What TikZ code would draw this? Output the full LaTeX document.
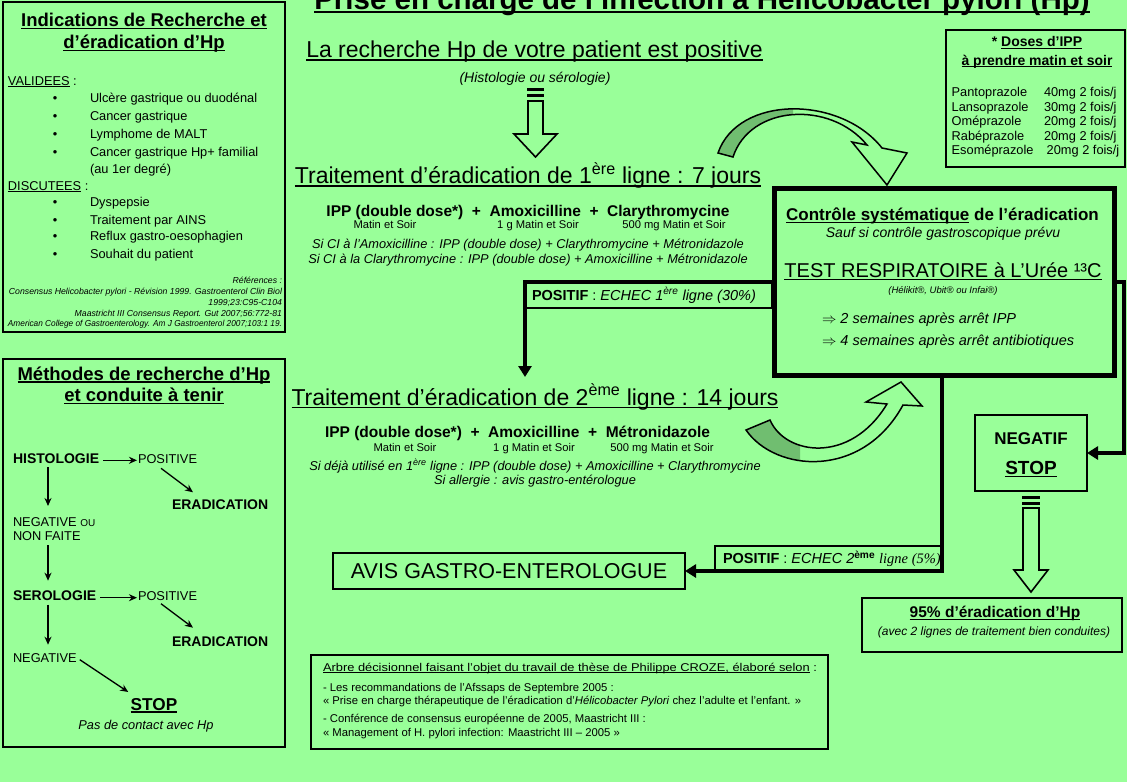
\documentclass[tikz,border=0pt]{standalone}
\usepackage{fontspec}
\setmainfont{Liberation Sans}
\newfontfamily\timesf{Liberation Serif}
\usetikzlibrary{arrows.meta,calc}
\definecolor{bg}{RGB}{153,255,153}
\definecolor{band}{RGB}{112,190,112}
\newcommand\fsz[1]{\fontsize{#1}{#1}\selectfont}
\newcommand\ulx[1]{\setbox0\hbox{#1}\rlap{\rule[-0.15em]{\wd0}{0.07em}}\box0\relax}
\newcommand\sups[1]{\textsuperscript{#1}}
\begin{document}
\begin{tikzpicture}[x=1pt,y=-1pt,
  t/.style={inner sep=0pt,outer sep=0pt,anchor=base},
  tl/.style={t,anchor=base west},
  tr/.style={t,anchor=base east},
  box/.style={draw=black,line width=#1,inner sep=0pt,outer sep=0pt,anchor=north west},
  box/.default=2pt,
  conn/.style={draw=black,line width=3.5pt,-{Triangle[length=11pt,width=13pt]}},
  marr/.style={draw=black,line width=1.3pt,-{Stealth[length=8pt,width=7pt]}},
  hollow/.style={draw=black,line width=1.6pt,fill=bg,line join=miter},
  curved/.style={draw=black,line width=1.5pt,line join=miter}]
\fill[bg] (0,0) rectangle (1127,782);
\useasboundingbox (0,0) rectangle (1127,782);

% ---------- title ----------
\node[t] (title) at (702,9) {\fsz{29.5}\bfseries\ulx{Prise en charge de l’infection à Helicobacter pylori (Hp)}};

% ---------- box 1 : indications ----------
\node[box,minimum width=282pt,minimum height=330pt] (ind) at (3,2) {};
\node[t] (ind1) at (144,26.7) {\fsz{18.5}\bfseries\ulx{Indications de Recherche et}};
\node[t] (ind2) at (144,48.3) {\fsz{18.5}\bfseries\ulx{d’éradication d’Hp}};
\node[tl] (val) at (8,85) {\fsz{12.8}\ulx{VALIDEES} :};
\foreach \y/\txt [count=\i] in {102.7/Ulcère gastrique ou duodénal,120.7/Cancer gastrique,138/Lymphome de MALT,156.7/Cancer gastrique Hp+ familial}{
  \node[t] (vb\i) at (55,\y) {\fsz{12.8}•};
  \node[tl] (vi\i) at (90,\y) {\fsz{12.8}\txt};
}
\node[tl] (vi5) at (90,173.3) {\fsz{12.8}(au 1er degré)};
\node[tl] (dis) at (8,190) {\fsz{12.8}\ulx{DISCUTEES} :};
\foreach \y/\txt [count=\i] in {206.7/Dyspepsie,224/Traitement par AINS,240.7/Reflux gastro-oesophagien,258.3/Souhait du patient}{
  \node[t] (db\i) at (55,\y) {\fsz{12.8}•};
  \node[tl] (di\i) at (90,\y) {\fsz{12.8}\txt};
}
\node[tr] (r1) at (282,283.5) {\fsz{8.7}\itshape Références :};
\node[tr] (r2) at (282,294.5) {\fsz{8.7}\itshape Consensus Helicobacter pylori - Révision 1999. Gastroenterol Clin Biol};
\node[tr] (r3) at (282,305) {\fsz{8.7}\itshape 1999;23:C95-C104};
\node[tr] (r4) at (282,316) {\fsz{8.7}\itshape Maastricht III Consensus Report. Gut 2007;56:772-81};
\node[tr] (r5) at (282,326.5) {\fsz{8.7}\resizebox{274pt}{\height}{\itshape American College of Gastroenterology. Am J Gastroenterol 2007;103:1 19.}};

% ---------- box 2 : methodes ----------
\node[box,minimum width=282pt,minimum height=388pt] (meth) at (3,359) {};
\node[t] (m1) at (144,380) {\fsz{18.5}\bfseries\ulx{Méthodes de recherche d’Hp}};
\node[t] (m2) at (144,401.7) {\fsz{18.5}\bfseries\ulx{et conduite à tenir}};
\node[tl] (histo) at (13,463.3) {\fsz{14}\bfseries HISTOLOGIE};
\node[tl] (posa) at (138,463.3) {\fsz{12.8}POSITIVE};
\node[tl] (eraa) at (172,509.3) {\fsz{14}\bfseries ERADICATION};
\node[tl] (nega) at (13,526) {\fsz{12.8}NEGATIVE {\fsz{10}OU}};
\node[tl] (negb) at (13,540) {\fsz{12.8}NON FAITE};
\node[tl] (sero) at (13,600.7) {\fsz{14}\bfseries SEROLOGIE};
\node[tl] (posb) at (138,600.7) {\fsz{12.8}POSITIVE};
\node[tl] (erab) at (172,646.7) {\fsz{14}\bfseries ERADICATION};
\node[tl] (negc) at (13,662.7) {\fsz{12.8}NEGATIVE};
\node[t] (stopm) at (154,710) {\fsz{17.2}\bfseries\ulx{STOP}};
\node[t] (pasde) at (146,729.3) {\fsz{12.8}\itshape Pas de contact avec Hp};
\draw[marr] ($(histo.base east)+(4,-3)$) -- ($(posa.base west)+(-1,-3)$);
\draw[marr] ($(sero.base east)+(4,-3)$) -- ($(posb.base west)+(-1,-3)$);
\draw[marr] ($(histo.base west)+(35,4)$) -- ($(nega.base west)+(35,-20)$);
\draw[marr] ($(negb.base west)+(35,5)$) -- ($(sero.base west)+(35,-20)$);
\draw[marr] ($(sero.base west)+(35,4)$) -- ($(negc.base west)+(35,-18)$);
\draw[marr] ($(posa.base west)+(23,5)$) -- ($(eraa.base west)+(21,-17)$);
\draw[marr] ($(posb.base west)+(23,3)$) -- ($(erab.base west)+(21,-19)$);
\draw[marr] ($(negc.base east)+(3,-3)$) -- ($(stopm.base west)+(-2.5,-18)$);

% ---------- centre column ----------
\node[t] (rech) at (534.5,57.5) {\fsz{23}\ulx{La recherche Hp de votre patient est positive}};
\node[t] (histsero) at (535,82.5) {\fsz{14}\itshape (Histologie ou sérologie)};
\draw[hollow] (528,89) rectangle (543,90.5);
\draw[hollow] (528,95) rectangle (543,96.5);
\draw[hollow] (528,101) -- (543,101) -- (543,134) -- (557,134) -- (535.5,157) -- (514,134) -- (528,134) -- cycle;

\node[t] (t1) at (528,183.3) {\fsz{23}\ulx{Traitement d’éradication de 1\sups{ère} ligne : 7 jours}};
\node[t] (t1d) at (528,216) {\fsz{15.5}\bfseries IPP (double dose*)\ \ +\ \ Amoxicilline\ \ +\ \ Clarythromycine};
\node[t] (t1m1) at (385,228.3) {\fsz{11.2}Matin et Soir};
\node[t] (t1m2) at (538,228.3) {\fsz{11.2}1 g Matin et Soir};
\node[t] (t1m3) at (674,228.3) {\fsz{11.2}500 mg Matin et Soir};
\node[t] (t1s1) at (528,248.3) {\fsz{12.8}\itshape Si CI à l’Amoxicilline : IPP (double dose) + Clarythromycine + Métronidazole};
\node[t] (t1s2) at (528,263.3) {\fsz{12.8}\itshape Si CI à la Clarythromycine : IPP (double dose) + Amoxicilline + Métronidazole};

\node[t] (t2) at (535,405) {\fsz{23}\ulx{Traitement d’éradication de 2\sups{ème} ligne : 14 jours}};
\node[t] (t2d) at (517.5,437.7) {\fsz{15.5}\bfseries IPP (double dose*)\ \ +\ \ Amoxicilline\ \ +\ \ Métronidazole};
\node[t] (t2m1) at (405,451) {\fsz{11.2}Matin et Soir};
\node[t] (t2m2) at (534,451) {\fsz{11.2}1 g Matin et Soir};
\node[t] (t2m3) at (662,451) {\fsz{11.2}500 mg Matin et Soir};
\node[t] (t2s1) at (535,470) {\fsz{12.8}\itshape Si déjà utilisé en 1\sups{ère} ligne : IPP (double dose) + Amoxicilline + Clarythromycine};
\node[t] (t2s2) at (535,484.3) {\fsz{12.8}\itshape Si allergie : avis gastro-entérologue};

% ---------- controle box ----------
\node[box=5pt,minimum width=340pt,minimum height=187pt] (ctrl) at (774,188.5) {};
\node[t] (c1) at (942.5,220.7) {\fsz{17}\bfseries\ulx{Contrôle systématique} de l’éradication};
\node[t] (c2) at (943,237.3) {\fsz{14}\itshape Sauf si contrôle gastroscopique prévu};
\node[t] (c3) at (943,277.3) {\fsz{20}\ulx{TEST RESPIRATOIRE à L’Urée ¹³C}};
\node[t] (c4) at (943,293.3) {\fsz{9.5}\itshape (Hélikit®, Ubit® ou Infai®)};
\node[tl] (c5) at (822,323.3) {\fsz{14.5}\itshape $\Rightarrow$ 2 semaines après arrêt IPP};
\node[tl] (c6) at (822,345.7) {\fsz{14.5}\itshape $\Rightarrow$ 4 semaines après arrêt antibiotiques};

% ---------- doses box ----------
\node[box=1.5pt,minimum width=179pt,minimum height=137pt] (doses) at (946,30) {};
\node[t] (d1) at (1037,46.7) {\fsz{14}\bfseries * \ulx{Doses d’IPP}};
\node[t] (d2) at (1037,65) {\fsz{14}\bfseries\ulx{à prendre matin et soir}};
\foreach \y/\nm/\ds [count=\i] in {96.7/Pantoprazole/40mg 2 fois\slash j,111/Lansoprazole/30mg 2 fois\slash j,125.7/Oméprazole/20mg 2 fois\slash j,140/Rabéprazole/20mg 2 fois\slash j}{
  \node[tl] (dn\i) at (951.7,\y) {\fsz{12.8}\nm};
  \node[tl] (dd\i) at (1044,\y) {\fsz{12.8}\ds};
}
\node[tl] (dn5) at (951.7,154.3) {\fsz{12.8}Esoméprazole};
\node[tl] (dd5) at (1046.7,154.3) {\fsz{12.8}20mg 2 fois/j};

% ---------- negatif / 95% ----------
\node[box,minimum width=112pt,minimum height=76pt] (neg) at (975,415) {};
\node[t] (negt) at (1031,444) {\fsz{17}\bfseries NEGATIF};
\node[t] (negs) at (1031,474) {\fsz{19}\bfseries\ulx{STOP}};
\draw[hollow] (1023,497) rectangle (1039,498.5);
\draw[hollow] (1023,503) rectangle (1039,504.5);
\draw[hollow] (1023,508) -- (1039,508) -- (1039,570) -- (1048,570) -- (1031,592) -- (1014,570) -- (1023,570) -- cycle;
\node[box,minimum width=260pt,minimum height=54pt] (e95) at (862,598) {};
\node[t] (e95a) at (995,617.3) {\fsz{15.5}\bfseries\ulx{95\% d’éradication d’Hp}};
\node[t] (e95b) at (994,635) {\fsz{12}\itshape (avec 2 lignes de traitement bien conduites)};

% ---------- avis ----------
\node[box,minimum width=352pt,minimum height=36pt] (avis) at (333,553) {};
\node[t] (avist) at (509,578.3) {\fsz{21.5}AVIS GASTRO-ENTEROLOGUE};

% ---------- positif labels ----------
\node[box,minimum width=247pt,minimum height=25pt] (pos1) at (525,283) {};
\node[tl] (pos1t) at (532,300) {\fsz{14.5}\textbf{POSITIF} : \textit{ECHEC 1\sups{ère} ligne (30\%)}};
\node[box,minimum width=227pt,minimum height=26pt] (pos2) at (715,546) {};
\node[tl] (pos2t) at (723,563.3) {\fsz{14.5}\textbf{POSITIF} : \textit{ECHEC 2}\sups{\bfseries ème} {\timesf\itshape ligne (5\%)}};

% ---------- connectors ----------
\coordinate (t2in) at (525,377);
\draw[conn] (ctrl.west) -| (t2in);
\draw[conn] (ctrl.east) -- ++(10,0) |- (neg.east);
\draw[conn] ([xshift=-2pt]ctrl.south) |- (avis.east);

% ---------- curved arrows ----------
\fill[bg] (718,153) .. controls (738,95) and (840,95) .. (882,148) -- (907,153) -- (887,185) -- (852,142) -- (867,145) .. controls (830,100) and (750,105) .. (733,157) -- cycle;
\begin{scope}
\clip (700,80) rectangle (793,170);
\fill[band] (718,153) .. controls (738,95) and (840,95) .. (882,148) -- (867,145) .. controls (830,100) and (750,105) .. (733,157) -- cycle;
\end{scope}
\draw[curved] (718,153) .. controls (738,95) and (840,95) .. (882,148) -- (907,153) -- (887,185) -- (852,142) -- (867,145) .. controls (830,100) and (750,105) .. (733,157) -- cycle;

\fill[bg] (746,430) .. controls (775,472) and (862,480) .. (903,405) -- (922,406) -- (901,382) -- (866,402) -- (887,404) .. controls (850,465) and (785,455) .. (770,420) -- cycle;
\begin{scope}
\clip (730,400) rectangle (800,480);
\fill[band] (746,430) .. controls (775,472) and (862,480) .. (903,405) -- (887,404) .. controls (850,465) and (785,455) .. (770,420) -- cycle;
\end{scope}
\draw[curved] (746,430) .. controls (775,472) and (862,480) .. (903,405) -- (922,406) -- (901,382) -- (866,402) -- (887,404) .. controls (850,465) and (785,455) .. (770,420) -- cycle;

% ---------- bottom reference box ----------
\node[box=1.5pt,minimum width=517pt,minimum height=94pt] (refs) at (311,655) {};
\node[tl] (b1) at (323,671) {\fsz{11.3}\resizebox{494pt}{\height}{\ulx{Arbre décisionnel faisant l’objet du travail de thèse de Philippe CROZE, élaboré selon} :}};
\node[tl] (b2) at (323,691.5) {\fsz{11.3}- Les recommandations de l’Afssaps de Septembre 2005 :};
\node[tl] (b3) at (323,704.5) {\fsz{11.3}« Prise en charge thérapeutique de l’éradication d’\textit{Hélicobacter Pylori} chez l’adulte et l’enfant. »};
\node[tl] (b4) at (323,722.5) {\fsz{11.3}- Conférence de consensus européenne de 2005, Maastricht III :};
\node[tl] (b5) at (323,736.5) {\fsz{11.3}« Management of H. pylori infection: Maastricht III – 2005 »};
\end{tikzpicture}
\end{document}
